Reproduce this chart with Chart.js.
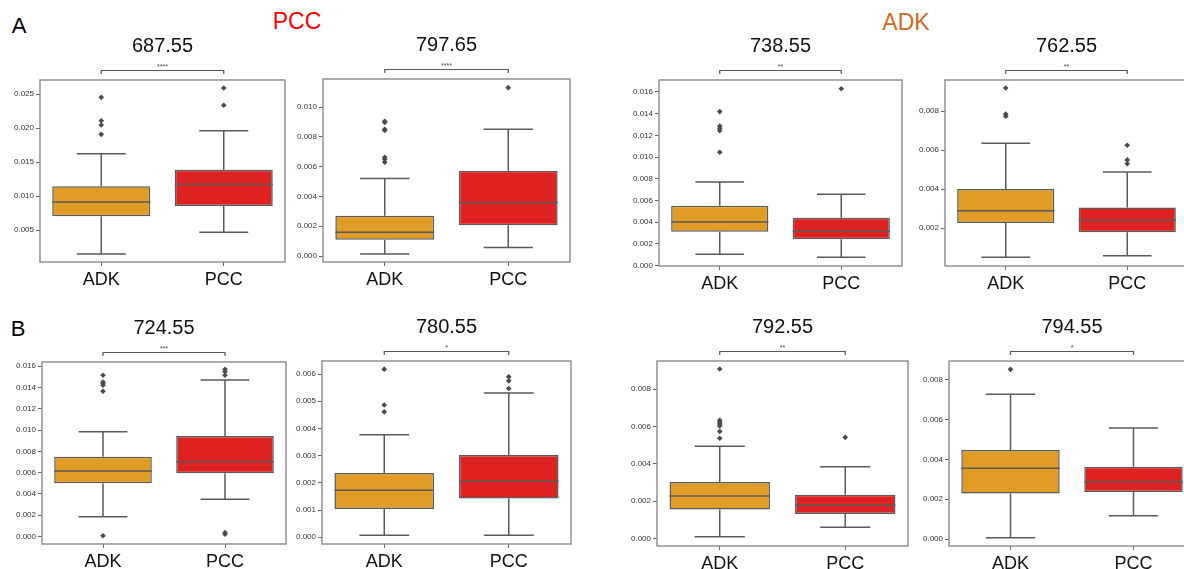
<!DOCTYPE html>
<html><head><meta charset="utf-8">
<script src="https://cdn.jsdelivr.net/npm/chart.js@4"></script>
<style>
html,body{margin:0;padding:0;background:#fff;overflow:hidden;width:1184px;height:569px;position:relative;}
.wrap{position:absolute;}
.lbl{position:absolute;font-family:"Liberation Sans",Arial,sans-serif;line-height:1;transform:translate(-50%,-50%);white-space:nowrap;}
</style></head><body>
<div class="lbl" style="left:19px;top:26px;font-size:22px;color:#000">A</div>
<div class="lbl" style="left:18px;top:329px;font-size:22px;color:#000">B</div>
<div class="lbl" style="left:297px;top:21px;font-size:23px;color:#ff0000">PCC</div>
<div class="lbl" style="left:906px;top:22px;font-size:23px;color:#d2691e">ADK</div>
<script>
// ---------- data ----------
const groups = ['ADK', 'PCC'];
const titles = ['687.55', '797.65', '738.55', '762.55', '724.55', '780.55', '792.55', '794.55'];
const stars  = ['****', '****', '**', '**', '***', '*', '**', '*'];

const adkLow  = [0.00147, 0.00013, 0.00105, 0.00052, 0.00184, 0.00007, 0.00009, 0.00006];
const adkQ1   = [0.00701, 0.00109, 0.00313, 0.00227, 0.00499, 0.00104, 0.00155, 0.00229];
const adkMed  = [0.00912, 0.00159, 0.00403, 0.00290, 0.00615, 0.00173, 0.00227, 0.00355];
const adkQ3   = [0.01143, 0.00270, 0.00553, 0.00401, 0.00749, 0.00236, 0.00302, 0.00447];
const adkHigh = [0.01622, 0.00521, 0.00771, 0.00635, 0.00984, 0.00377, 0.00493, 0.00727];
const adkOut  = [
  [0.02451, 0.02107, 0.02044, 0.01907],
  [0.00904, 0.00897, 0.00851, 0.00843, 0.00663, 0.00649, 0.00630],
  [0.01419, 0.01287, 0.01266, 0.01244, 0.01045],
  [0.00918, 0.00785, 0.00774],
  [0.01516, 0.01451, 0.01440, 0.01422, 0.01365, 0.00005],
  [0.00618, 0.00486, 0.00461],
  [0.00907, 0.00632, 0.00622, 0.00612, 0.00602, 0.00573, 0.00536],
  [0.00852]
];

const pccLow  = [0.00466, 0.00057, 0.00077, 0.00060, 0.00348, 0.00007, 0.00060, 0.00117];
const pccQ1   = [0.00853, 0.00206, 0.00243, 0.00180, 0.00593, 0.00142, 0.00130, 0.00236];
const pccMed  = [0.01172, 0.00360, 0.00317, 0.00241, 0.00702, 0.00206, 0.00177, 0.00288];
const pccQ3   = [0.01387, 0.00573, 0.00442, 0.00307, 0.00944, 0.00302, 0.00234, 0.00363];
const pccHigh = [0.01960, 0.00850, 0.00658, 0.00488, 0.01471, 0.00530, 0.00384, 0.00557];
const pccOut  = [
  [0.02588, 0.02334],
  [0.01130],
  [0.01630],
  [0.00625, 0.00550, 0.00530],
  [0.01572, 0.01549, 0.01515, 0.00035, 0.00020],
  [0.00590, 0.00575, 0.00547],
  [0.00541],
  []
];

const yMin = [0.0003, -0.0004, -0.00003, 0.00007, -0.00072, -0.00025, -0.00041, -0.00035];
const yMax = [0.02706, 0.01188, 0.0171, 0.00959, 0.0164, 0.00648, 0.0095, 0.00894];
const yTicks = [
  [0.005, 0.010, 0.015, 0.020, 0.025],
  [0.000, 0.002, 0.004, 0.006, 0.008, 0.010],
  [0.000, 0.002, 0.004, 0.006, 0.008, 0.010, 0.012, 0.014, 0.016],
  [0.002, 0.004, 0.006, 0.008],
  [0.000, 0.002, 0.004, 0.006, 0.008, 0.010, 0.012, 0.014, 0.016],
  [0.000, 0.001, 0.002, 0.003, 0.004, 0.005, 0.006],
  [0.000, 0.002, 0.004, 0.006, 0.008],
  [0.000, 0.002, 0.004, 0.006, 0.008]
];

// ---------- layout / style ----------
const frames = [
  [40, 80, 285, 262], [323, 79, 570, 262], [659, 80, 902, 266], [945, 80, 1188, 266],
  [42, 362, 286, 544], [322, 361, 571, 544], [657, 361, 908, 546], [949, 361, 1195, 546]
];
const FONT = '"Liberation Sans", Arial, Helvetica, sans-serif';
Chart.defaults.font.family = FONT;
const ORANGE = '#e09c24', RED = '#de2121', EDGE = '#5a5a5a', FRAME = '#8a8a8a';
const Y_W = 60, TOP_PAD = 50, RIGHT_PAD = 4, X_H = 34;

const boxPlugin = {
  id: 'boxExtras',
  beforeDatasetsDraw(chart) {
    const i = chart.options.panelIndex;
    const x = chart.scales.x, y = chart.scales.y, ctx = chart.ctx;
    const unit = x.getPixelForValue(1) - x.getPixelForValue(0);
    const stats = [[adkLow[i], adkQ1[i], adkQ3[i], adkHigh[i]], [pccLow[i], pccQ1[i], pccQ3[i], pccHigh[i]]];
    ctx.save();
    ctx.strokeStyle = EDGE; ctx.lineWidth = 1.5;
    stats.forEach((s, k) => {
      const cx = x.getPixelForValue(k);
      ctx.beginPath();
      ctx.moveTo(cx, y.getPixelForValue(s[0])); ctx.lineTo(cx, y.getPixelForValue(s[1]));
      ctx.moveTo(cx, y.getPixelForValue(s[2])); ctx.lineTo(cx, y.getPixelForValue(s[3]));
      const hw = unit * 0.2;
      ctx.moveTo(cx - hw, y.getPixelForValue(s[0])); ctx.lineTo(cx + hw, y.getPixelForValue(s[0]));
      ctx.moveTo(cx - hw, y.getPixelForValue(s[3])); ctx.lineTo(cx + hw, y.getPixelForValue(s[3]));
      ctx.stroke();
    });
    ctx.restore();
  },
  afterDatasetsDraw(chart) {
    const i = chart.options.panelIndex;
    const x = chart.scales.x, y = chart.scales.y, ctx = chart.ctx, a = chart.chartArea;
    const unit = x.getPixelForValue(1) - x.getPixelForValue(0);
    ctx.save();
    // medians
    ctx.strokeStyle = EDGE; ctx.lineWidth = 1.5;
    [adkMed[i], pccMed[i]].forEach((m, k) => {
      const cx = x.getPixelForValue(k), hw = unit * 0.4, py = y.getPixelForValue(m);
      ctx.beginPath(); ctx.moveTo(cx - hw, py); ctx.lineTo(cx + hw, py); ctx.stroke();
    });
    // frame
    ctx.strokeStyle = FRAME; ctx.lineWidth = 1.4;
    ctx.strokeRect(a.left, a.top, a.right - a.left, a.bottom - a.top);
    // significance bracket
    const x0 = x.getPixelForValue(0), x1 = x.getPixelForValue(1), by = a.top - 9.5;
    ctx.strokeStyle = '#555'; ctx.lineWidth = 1.2;
    ctx.beginPath();
    ctx.moveTo(x0, by + 3.5); ctx.lineTo(x0, by); ctx.lineTo(x1, by); ctx.lineTo(x1, by + 3.5);
    ctx.stroke();
    ctx.fillStyle = '#444'; ctx.font = '7px ' + FONT;
    ctx.textAlign = 'center'; ctx.textBaseline = 'middle';
    ctx.fillText(stars[i], (x0 + x1) / 2, a.top - 13);
    // title
    ctx.fillStyle = '#111'; ctx.font = '20px ' + FONT;
    ctx.fillText(titles[i], (a.left + a.right) / 2, a.top - 34);
    ctx.restore();
  }
};

function makePanel(i) {
  const [L, T, R, B] = frames[i];
  const w = R - L + Y_W + RIGHT_PAD, h = B - T + TOP_PAD + X_H;
  const wrap = document.createElement('div');
  wrap.className = 'wrap';
  wrap.style.left = (L - Y_W) + 'px'; wrap.style.top = (T - TOP_PAD) + 'px';
  wrap.style.width = w + 'px'; wrap.style.height = h + 'px';
  const cv = document.createElement('canvas');
  cv.width = w; cv.height = h; cv.style.width = w + 'px'; cv.style.height = h + 'px';
  wrap.appendChild(cv); document.body.appendChild(wrap);
  const outliers = [];
  adkOut[i].forEach(v => outliers.push({x: 'ADK', y: v}));
  pccOut[i].forEach(v => outliers.push({x: 'PCC', y: v}));
  new Chart(cv, {
    type: 'bar',
    data: {
      labels: groups,
      datasets: [
        {type: 'bar', data: [[adkQ1[i], adkQ3[i]], [pccQ1[i], pccQ3[i]]],
         backgroundColor: [ORANGE, RED], borderColor: EDGE, borderWidth: 1.5, borderSkipped: false,
         barPercentage: 0.8, categoryPercentage: 1, order: 2},
        {type: 'scatter', data: outliers, pointStyle: 'rectRot', radius: 2.8,
         backgroundColor: '#4a4a4a', borderColor: '#4a4a4a', borderWidth: 0, order: 1}
      ]
    },
    options: {
      panelIndex: i,
      responsive: false, animation: false, devicePixelRatio: 1,
      layout: {padding: {top: TOP_PAD, right: RIGHT_PAD, left: 0, bottom: 0}},
      plugins: {legend: {display: false}, tooltip: {enabled: false}, title: {display: false}},
      scales: {
        x: {type: 'category', offset: true,
            grid: {display: true, drawOnChartArea: false, offset: false, tickLength: 4, color: '#666', lineWidth: 1},
            border: {display: false},
            ticks: {font: {size: 18, family: FONT}, color: '#111', padding: 3},
            afterFit(s) { s.height = X_H; }},
        y: {type: 'linear', min: yMin[i], max: yMax[i],
            grid: {display: true, drawOnChartArea: false, tickLength: 4, color: '#666', lineWidth: 1},
            border: {display: false},
            afterBuildTicks(s) { s.ticks = yTicks[i].map(v => ({value: v})); },
            ticks: {font: {size: 8, family: FONT}, color: '#333', padding: 2, callback: v => Number(v).toFixed(3)},
            afterFit(s) { s.width = Y_W; }}
      }
    },
    plugins: [boxPlugin]
  });
}
for (let i = 0; i < 8; i++) makePanel(i);
</script>
</body></html>
